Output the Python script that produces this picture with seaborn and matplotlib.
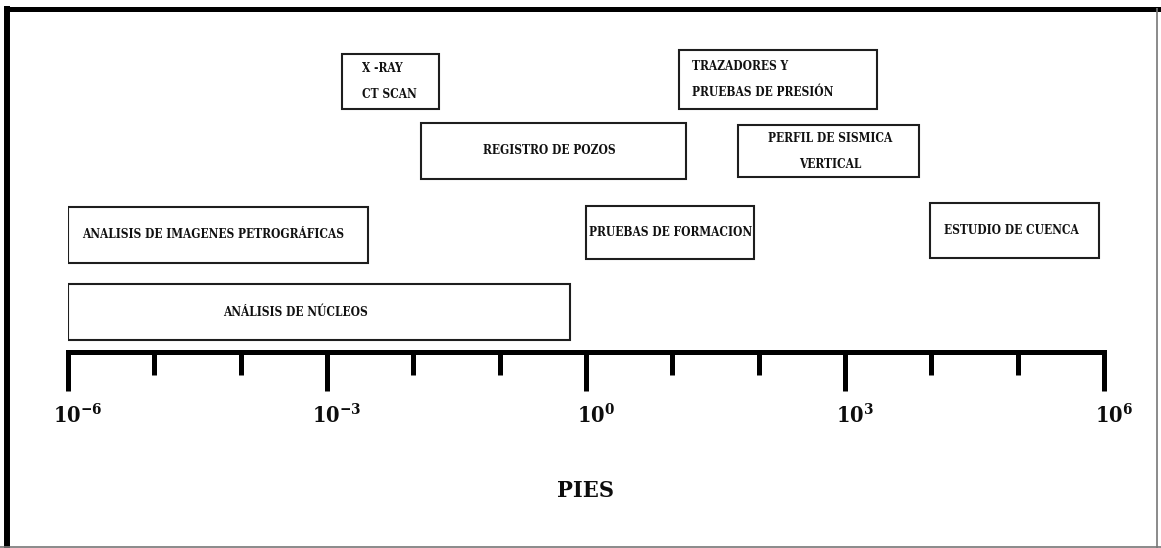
import numpy as np
import matplotlib
matplotlib.use("Agg")
import matplotlib.pyplot as plt
import matplotlib.font_manager as fm
import matplotlib.transforms as mtransforms
from matplotlib.lines import Line2D
import seaborn as sns

# Técnicas e a faixa de escala que cada uma cobre (expoentes de 10, em pés)
tecnicas = ['X -RAY\nCT SCAN', 'TRAZADORES Y\nPRUEBAS DE PRESIÓN', 'REGISTRO DE POZOS',
            'PERFIL DE SISMICA\nVERTICAL', 'ANALISIS DE IMAGENES PETROGRÁFICAS',
            'PRUEBAS DE FORMACION', 'ESTUDIO DE CUENCA', 'ANÁLISIS DE NÚCLEOS']
expoente_ini = [-2.83, 1.08, -1.91, 1.76, -6.0, 0.0, 3.99, -6.0]
expoente_fim = [-1.70, 3.37, 1.16, 3.86, -2.53, 1.95, 5.94, -0.19]

expoentes_maiores = [-6, -3, 0, 3, 6]
expoentes_menores = [-5, -4, -2, -1, 1, 2, 4, 5]
rotulo_eixo = 'PIES'

# Layout das caixas (linhas em pixels a partir do topo)
topo = [54, 50, 123, 125, 207, 206, 203, 284]
base = [109, 109, 179, 177, 263, 259, 258, 340]
alinhamento = ['left', 'left', 'center', 'center', 'left', 'center', 'left', 'center']
desloc_px = [20, 13, -4, 2, 14, 0, 14, -23]

sns.set_theme(style="white")


# Fonte negrito estreita, se houver; senão uma serifada negrito
def peso(f):
    return f.weight if isinstance(f.weight, (int, float)) else fm.weight_dict.get(f.weight, 400)


def estreita(f):
    nome = f.name.lower()
    return str(f.stretch) not in ('normal', '500') or 'narrow' in nome or 'condensed' in nome


candidatas = [f for f in fm.fontManager.ttflist
              if peso(f) >= 600 and f.style == 'normal' and estreita(f)]
candidatas.sort(key=lambda f: ('Serif' not in f.name, f.name))
if candidatas:
    fonte = dict(family=candidatas[0].name, weight='bold', stretch=str(candidatas[0].stretch))
else:
    fonte = dict(family='Liberation Serif', weight='bold', stretch='normal')

padrao = f"{fonte['family']}:bold:stretch={fonte['stretch']}"
plt.rcParams['mathtext.fontset'] = 'custom'
plt.rcParams['mathtext.rm'] = padrao
plt.rcParams['mathtext.bf'] = padrao
plt.rcParams['mathtext.default'] = 'rm'

fig = plt.figure(figsize=(11.61, 5.48), dpi=100)
renderizador = fig.canvas.get_renderer()


def ajustar(texto, largura_px):
    t = fig.text(0, 0, texto, fontsize=10, **fonte)
    w = t.get_window_extent(renderer=renderizador).width
    t.remove()
    return 10 * largura_px / w


tam_caixa = ajustar('ANALISIS DE IMAGENES PETROGRÁFICAS', 261)
tam_escala = ajustar('10', 27)
tam_pies = ajustar(rotulo_eixo, 57)

_, h_lp, d_lp = renderizador.get_text_width_height_descent(
    'lp', fm.FontProperties(size=tam_caixa, **fonte), ismath=False)
entrelinha = 23 / (h_lp - d_lp)

ax = fig.add_axes([68 / 1161, 0, 1036 / 1161, 1])
ax.set_xscale('log')
ax.patch.set_alpha(0)

ini = 10.0 ** np.array(expoente_ini)
fim = 10.0 ** np.array(expoente_fim)
centro = [(t + b) / 2 for t, b in zip(topo, base)]
altura = [b - t for t, b in zip(topo, base)]

ax.barh(centro, fim - ini, left=ini, height=altura, color='white',
        edgecolor='#1e1e1e', linewidth=1.5, zorder=2)

for i, nome in enumerate(tecnicas):
    x = ini[i] if alinhamento[i] == 'left' else np.sqrt(ini[i] * fim[i])
    ax.annotate(nome, (x, centro[i]), xytext=(desloc_px[i] * 0.72, 0),
                textcoords='offset points', ha=alinhamento[i], va='center',
                multialignment=alinhamento[i], fontsize=tam_caixa,
                linespacing=entrelinha, color='#111111', zorder=3, **fonte)

ax.set_xlim(10.0 ** expoentes_maiores[0], 10.0 ** expoentes_maiores[-1])
ax.set_ylim(548, 0)
ax.set_yticks([])

# Eixo da escala
sns.despine(ax=ax, left=True)
ax.spines['bottom'].set_position(('data', 351.5))
ax.spines['bottom'].set_linewidth(3.6)
ax.spines['bottom'].set_color('black')

ax.set_xticks(10.0 ** np.array(expoentes_maiores))
ax.set_xticks(10.0 ** np.array(expoentes_menores), minor=True)
ax.set_xticklabels([f'$10^{{{e}}}$' for e in expoentes_maiores])
ax.xaxis.set_minor_formatter(plt.NullFormatter())
ax.tick_params(axis='x', which='major', bottom=True, direction='out', length=28.4,
               width=3.6, color='black', pad=9, labelsize=tam_escala,
               labelcolor='#0d0d0d')
ax.tick_params(axis='x', which='minor', bottom=True, direction='out', length=16.2,
               width=3.6, color='black')

desl = mtransforms.ScaledTranslation(10 / 100, 0, fig.dpi_scale_trans)
for rot in ax.get_xticklabels():
    rot.set_transform(rot.get_transform() + desl)

ax.set_xlabel(rotulo_eixo, fontsize=tam_pies, labelpad=38, color='#0d0d0d', **fonte)

# Moldura
H, W = 548, 1161
fig.add_artist(Line2D([7 / W, 7 / W], [0, 1 - 6 / H], color='black', lw=4.3,
                      solid_capstyle='butt', transform=fig.transFigure))
fig.add_artist(Line2D([4 / W, 1], [1 - 8.5 / H, 1 - 8.5 / H], color='black', lw=3.6,
                      solid_capstyle='butt', transform=fig.transFigure))
fig.add_artist(Line2D([1157 / W, 1157 / W], [0, 1 - 8 / H], color='#777777', lw=1.2,
                      solid_capstyle='butt', transform=fig.transFigure))
fig.add_artist(Line2D([0, 1], [1 / H, 1 / H], color='#777777', lw=1.2,
                      solid_capstyle='butt', transform=fig.transFigure))

fig.savefig('out.png', dpi=100)
